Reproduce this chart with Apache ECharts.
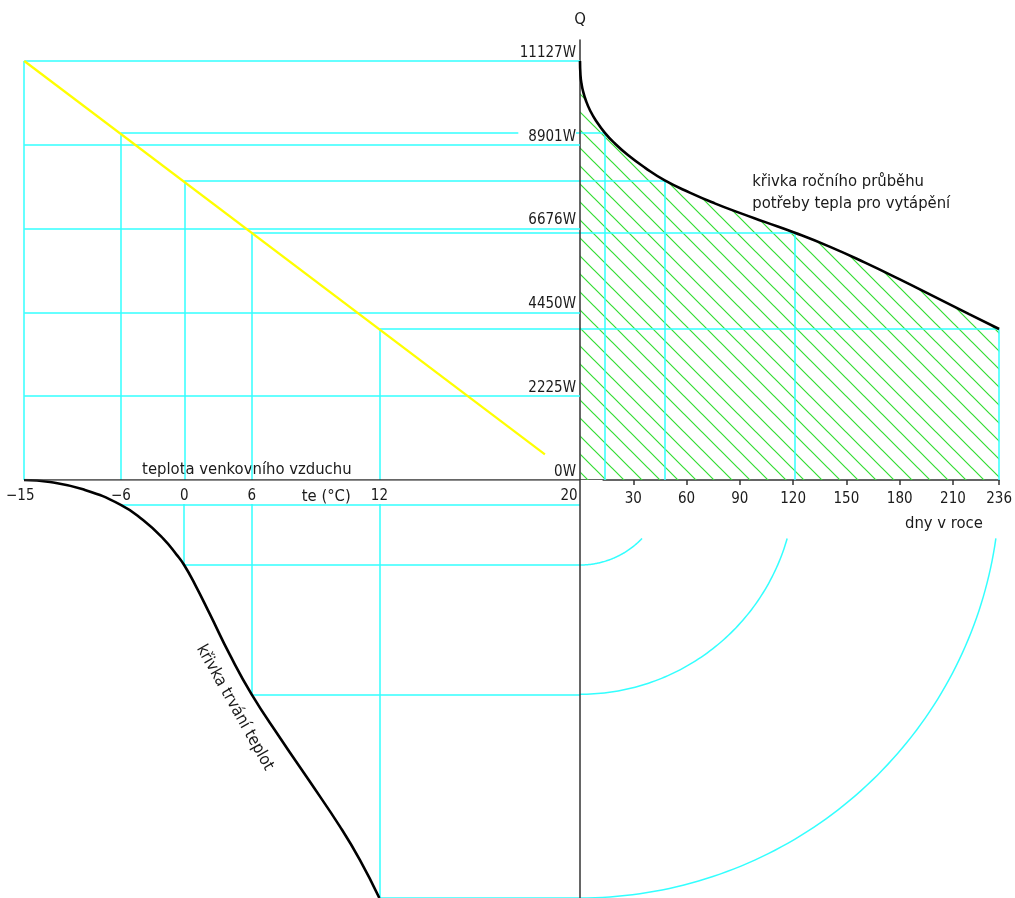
<!DOCTYPE html>
<html>
<head>
<meta charset="utf-8">
<script src="https://cdn.jsdelivr.net/npm/echarts@6/dist/echarts.min.js"></script>
<style>
html,body{margin:0;padding:0;background:#fff;}
#c{width:1015px;height:898px;}
</style>
</head>
<body>
<div id="c"></div>
<script>
// ---------------- data ----------------
const qTicks = [0, 2225, 4450, 6676, 8901, 11127];          // W
const qMax = 11127;
const teTicks = [-15, -6, 0, 6, 12, 20];                    // °C labels of the temperature scale
const teTickScale = [-15, -8.91, -4.92, -0.67, 7.37, 20];   // schematic (non-uniform) placement of those labels
const dayTicks = [30, 60, 90, 120, 150, 180, 210, 236];
const teLevels = [-6, 0, 6, 12];                            // °C
const qAtLevels = [9220, 7950, 6565, 4010];                 // W
const daysAtLevels = [14, 48, 121, 236];                    // days
const heatLoadLine = [[-15, 11127], [18.6, 680]];           // [te, Q]
const tempDuration = [[-15,0],[-12.58,1.18],[-9.51,5.28],[-6,14],[-3.89,22.64],[-2.0,32.98],[-0.68,42.42],[0,48],[0.96,58.89],[2.29,75.74],[4.07,98.78],[6,121],[7.33,145.47],[8.74,170.42],[10.15,195.71],[11.09,214.59],[12,236]]; // [te, days]
const annualDemand = [[0,11127],[0.28,10747],[0.84,10530],[1.69,10330],[3.37,10070],[5.62,9820],[8.99,9542],[14,9220],[19.67,8936],[26.97,8631],[36.52,8296],[48,7950],[61.81,7632],[75.86,7347],[89.9,7094],[103.95,6855],[121,6565],[140.5,6198],[160.2,5779],[179.8,5333],[199.5,4868],[219.1,4403],[236,4010]]; // [days, Q]

// ---------------- style ----------------
const CYAN = '#33ffff', YELLOW = '#ffff00', HATCH = '#33dd33', INK = '#1a1a1a', AXIS = '#333333';
const NUM_FONT = '"DejaVu Sans Condensed", "DejaVu Sans", sans-serif';
const WORD_FONT = '"DejaVu Sans Condensed", "DejaVu Sans", sans-serif';
const NUM_SIZE = 15;
const Q_AXIS_MAX = 11684.7;
const ARC_STOP = 33;
const SMOOTH = 0.5;

function teScale(t) {
  for (let i = 0; i < teTicks.length - 1; i++) {
    if (t <= teTicks[i + 1]) {
      const f = (t - teTicks[i]) / (teTicks[i + 1] - teTicks[i]);
      return teTickScale[i] + f * (teTickScale[i + 1] - teTickScale[i]);
    }
  }
  return teTickScale[teTickScale.length - 1];
}
const mapTe = pts => pts.map(p => [teScale(p[0]), p[1]]);
const seg = (a, b) => ({ coords: [a, b] });
const fmtTe = t => (t < 0 ? '\u2212' + Math.abs(t) : String(t));

const gridLines0 = qTicks.filter(q => q > 0).map(q => seg([teScale(-15), q], [teScale(20), q]));
gridLines0.push(seg([teScale(-15), 0], [teScale(-15), qMax]));
const levelLines0 = [], levelLines1 = [], levelLines2 = [];
teLevels.forEach((t, i) => {
  const x = teScale(t), q = qAtLevels[i], d = daysAtLevels[i];
  levelLines0.push(seg([x, q], [teScale(20), q]), seg([x, q], [x, 0]));
  levelLines1.push(seg([0, q], [d, q]), seg([d, q], [d, 0]));
  levelLines2.push(seg([x, 0], [x, d]), seg([x, d], [teScale(20), d]));
});

// hatch pattern
const pc = document.createElement('canvas');
pc.width = 18; pc.height = 18;
const pg = pc.getContext('2d');
pg.strokeStyle = HATCH; pg.lineWidth = 1.2;
pg.beginPath();
pg.moveTo(-2, -2); pg.lineTo(20, 20);
pg.moveTo(-2, 16); pg.lineTo(2, 20);
pg.moveTo(16, -2); pg.lineTo(20, 2);
pg.stroke();

const chart = echarts.init(document.getElementById('c'), null, { renderer: 'canvas' });

const segLines = (xi, data, z, color, width) => ({
  type: 'lines', coordinateSystem: 'cartesian2d', xAxisIndex: xi, yAxisIndex: xi,
  data: data, silent: true, z: z, animation: false,
  lineStyle: { color: color, width: width, opacity: 1 }
});

const richBase = { fontFamily: NUM_FONT, fontSize: NUM_SIZE, color: INK, lineHeight: 15 };
const labelRich = {
  b: Object.assign({}, richBase),
  l: Object.assign({ padding: [0, 8, 0, 0] }, richBase),
  r: Object.assign({ padding: [0, 22, 0, 0] }, richBase)
};

const option = {
  animation: false,
  backgroundColor: '#fff',
  grid: [
    { left: 24, right: 435, top: 40, bottom: 418 },
    { left: 580, right: 15, top: 40, bottom: 418 },
    { left: 24, right: 435, top: 480, bottom: -2 },
    { left: 580, right: 15, top: 480, bottom: -2 }
  ],
  xAxis: [
    {
      gridIndex: 0, type: 'value', min: -15, max: 20, z: 3,
      splitLine: { show: false },
      axisLine: { show: false },
      axisTick: { show: false },
      axisLabel: {
        customValues: teTickScale, margin: 0,
        padding: [9, 3, 0, 3], lineHeight: 15, backgroundColor: '#fff',
        formatter: v => {
          let bi = 0;
          teTickScale.forEach((s, i) => { if (Math.abs(s - v) < Math.abs(teTickScale[bi] - v)) bi = i; });
          const s = fmtTe(teTicks[bi]);
          if (bi === 0) return '{l|' + s + '}';
          if (bi === teTicks.length - 1) return '{r|' + s + '}';
          return '{b|' + s + '}';
        },
        rich: labelRich
      }
    },
    {
      gridIndex: 1, type: 'value', min: 0, max: 236,
      splitLine: { show: false },
      axisLine: { onZero: false, lineStyle: { color: AXIS, width: 1.5 } },
      axisTick: { show: true, customValues: dayTicks, length: 5, lineStyle: { color: AXIS, width: 1.5 } },
      axisLabel: { customValues: dayTicks, margin: 12, color: INK, fontFamily: NUM_FONT, fontSize: NUM_SIZE }
    },
    { gridIndex: 2, type: 'value', min: -15, max: 20, show: false },
    { gridIndex: 3, type: 'value', min: 0, max: 236, show: false }
  ],
  yAxis: [
    { gridIndex: 0, type: 'value', min: 0, max: Q_AXIS_MAX, show: false },
    {
      gridIndex: 1, type: 'value', min: 0, max: Q_AXIS_MAX, position: 'left', z: 3,
      splitLine: { show: false },
      axisLine: { onZero: false, lineStyle: { color: AXIS, width: 1.5 } },
      axisTick: { show: false },
      axisLabel: {
        customValues: qTicks, formatter: v => v + 'W', margin: 4,
        verticalAlign: 'bottom', lineHeight: 16, padding: [0, 0, 0, 10], backgroundColor: '#fff',
        color: INK, fontFamily: NUM_FONT, fontSize: NUM_SIZE
      },
      name: 'Q', nameLocation: 'end', nameGap: 12,
      nameTextStyle: { color: INK, fontFamily: WORD_FONT, fontSize: 16.5, align: 'center' }
    },
    { gridIndex: 2, type: 'value', min: 0, max: 236, inverse: true, show: false },
    { gridIndex: 3, type: 'value', min: 0, max: 236, inverse: true, show: false }
  ],
  series: [
    // hatched area under the annual heat demand curve
    {
      type: 'line', xAxisIndex: 1, yAxisIndex: 1, data: annualDemand, smooth: SMOOTH,
      symbol: 'none', z: 1, silent: true,
      lineStyle: { width: 0, opacity: 0 },
      areaStyle: { color: { image: pc, repeat: 'repeat' }, opacity: 1 }
    },
    segLines(0, levelLines0, 2, CYAN, 1.5),
    segLines(0, gridLines0, 4, CYAN, 1.5),
    segLines(1, levelLines1, 2, CYAN, 1.5),
    segLines(2, levelLines2, 2, CYAN, 1.5),
    // axis lines of the temperature scale and of the downward day scale
    segLines(0, [seg([teScale(-15), 0], [teScale(20), 0])], 6, AXIS, 1.5),
    segLines(3, [seg([0, 0], [0, 236])], 6, AXIS, 1.5),
    // transfer arcs
    {
      type: 'custom', xAxisIndex: 3, yAxisIndex: 3, z: 2, silent: true,
      data: daysAtLevels.map(d => [d, d]),
      renderItem: (params, api) => {
        const r = api.value(0);
        if (r <= ARC_STOP) return null;
        const thMax = Math.acos(ARC_STOP / r);
        const pts = [];
        for (let k = 0; k <= 80; k++) {
          const th = thMax * k / 80;
          pts.push(api.coord([r * Math.sin(th), r * Math.cos(th)]));
        }
        return { type: 'polyline', shape: { points: pts }, style: { stroke: CYAN, lineWidth: 1.5, fill: null } };
      }
    },
    // heat load vs outdoor temperature
    {
      type: 'line', xAxisIndex: 0, yAxisIndex: 0, data: mapTe(heatLoadLine), symbol: 'none', z: 5,
      lineStyle: { color: YELLOW, width: 2.2 }
    },
    // annual heat demand curve
    {
      type: 'line', xAxisIndex: 1, yAxisIndex: 1, data: annualDemand, smooth: SMOOTH,
      symbol: 'none', z: 5, lineStyle: { color: '#000', width: 2.6 }
    },
    // temperature duration curve
    {
      type: 'line', xAxisIndex: 2, yAxisIndex: 2, data: mapTe(tempDuration), smooth: SMOOTH,
      symbol: 'none', z: 5, lineStyle: { color: '#000', width: 2.6 }
    }
  ]
};
chart.setOption(option);

// annotations anchored in data coordinates
const P = (gi, pt) => chart.convertToPixel({ gridIndex: gi }, pt);
const wordFont = '16.5px ' + WORD_FONT;
const aTe = P(0, [teScale(9.5), 0]);
const aAir = P(0, [teScale(-4), 0]);
const aDays = P(3, [204.5, 24.7]);
const aCurve1 = P(1, [97, 7914]);
const aCurve2 = P(1, [97, 7329]);
const aDur = P(2, [teScale(4.5), 128.5]);

chart.setOption({
  graphic: [
    { type: 'text', x: aTe[0], y: aTe[1] + 8, style: { text: 'te (°C)', font: wordFont, fill: INK, align: 'center', verticalAlign: 'top' } },
    { type: 'text', x: aAir[0], y: aAir[1] - 2, style: { text: 'teplota venkovního vzduchu', font: wordFont, fill: INK, align: 'left', verticalAlign: 'bottom', backgroundColor: '#fff', padding: [4, 0, 0, 0] } },
    { type: 'text', x: aDays[0], y: aDays[1], style: { text: 'dny v roce', font: wordFont, fill: INK, align: 'center', verticalAlign: 'middle' } },
    { type: 'text', x: aCurve1[0], y: aCurve1[1], style: { text: 'křivka ročního průběhu', font: wordFont, fill: INK, align: 'left', verticalAlign: 'middle' } },
    { type: 'text', x: aCurve2[0], y: aCurve2[1], style: { text: 'potřeby tepla pro vytápění', font: wordFont, fill: INK, align: 'left', verticalAlign: 'middle' } },
    { type: 'text', x: aDur[0], y: aDur[1], rotation: -1.058, style: { text: 'křivka trvání teplot', font: wordFont, fill: INK, align: 'center', verticalAlign: 'middle' } }
  ]
});
</script>
</body>
</html>
